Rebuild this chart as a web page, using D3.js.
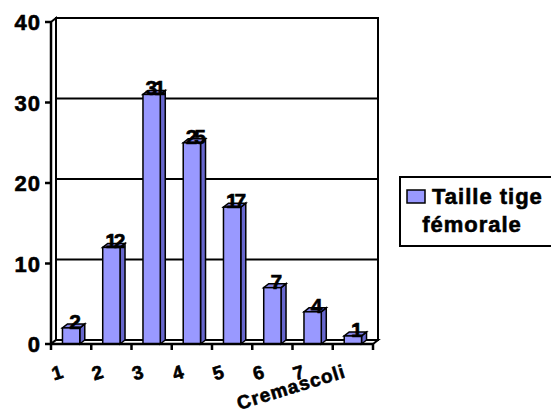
<!DOCTYPE html>
<html>
<head>
<meta charset="utf-8">
<script src="https://cdn.jsdelivr.net/npm/d3@7"></script>
<style>
body{margin:0;background:#fff;}
svg text{font-family:"Liberation Sans",Arial,sans-serif;font-weight:bold;fill:#000;stroke:#000;stroke-width:0.6px;}
</style>
</head>
<body>
<div id="chart"></div>
<script>
var categories = ["1","2","3","4","5","6","7","Cremascoli"];
var values = [2,12,31,25,17,7,4,1];
var yTicks = [0,10,20,30,40];
var seriesName = ["Taille tige","fémorale"];

var W = 551, H = 412;
var dx = 5, dy = -4;   // profondeur 3D

var svg = d3.select("#chart").append("svg").attr("width",W).attr("height",H);

var x = d3.scaleBand().domain(categories).range([51,373]);
var y = d3.scaleLinear().domain([0,40]).range([344,22]);
var barW = x.bandwidth()*0.43;

var x0 = x.range()[0], x1 = x.range()[1], yb = y(0), yt = y(40);

//back wall
svg.append("rect").attr("x",x0+dx).attr("y",yt+dy)
	.attr("width",x1-x0).attr("height",yb-yt)
	.attr("fill","#fff").attr("stroke","#000").attr("stroke-width",2);

//gridlines
svg.selectAll(".grid").data(yTicks.slice(1,4)).enter().append("line")
	.attr("x1",x0+dx).attr("x2",x1+dx)
	.attr("y1",function(d){return y(d)+dy;}).attr("y2",function(d){return y(d)+dy;})
	.attr("stroke","#000").attr("stroke-width",2);

//left wall + floor
svg.append("polygon")
	.attr("points",[[x0,yt],[x0+dx,yt+dy],[x0+dx,yb+dy],[x0,yb]].join(" "))
	.attr("fill","#fff").attr("stroke","#000").attr("stroke-width",2);
svg.append("polygon")
	.attr("points",[[x0,yb],[x0+dx,yb+dy],[x1+dx,yb+dy],[x1,yb]].join(" "))
	.attr("fill","#fff").attr("stroke","#000").attr("stroke-width",2);

//bars
var bars = svg.selectAll(".bar").data(values).enter().append("g");
bars.each(function(d,i){
	var g = d3.select(this);
	var bx = x(categories[i]) + (x.bandwidth()-barW)/2;
	var by = y(d);
	g.append("polygon")
		.attr("points",[[bx+barW,by],[bx+barW+dx,by+dy],[bx+barW+dx,yb+dy],[bx+barW,yb]].join(" "))
		.attr("fill","#6666cc").attr("stroke","#000").attr("stroke-width",1.5);
	g.append("polygon")
		.attr("points",[[bx,by],[bx+dx,by+dy],[bx+barW+dx,by+dy],[bx+barW,by]].join(" "))
		.attr("fill","#8080e6").attr("stroke","#000").attr("stroke-width",1.5);
	g.append("rect").attr("x",bx).attr("y",by).attr("width",barW).attr("height",yb-by)
		.attr("fill","#9999ff").attr("stroke","#000").attr("stroke-width",1.5);
	g.append("text").attr("x",bx+barW/2+dx/2).attr("y",by+1)
		.attr("text-anchor","middle").style("font-size","21px").style("letter-spacing","-3px")
		.text(d);
});

//axes
svg.append("line").attr("x1",x0).attr("x2",x0).attr("y1",yt).attr("y2",yb)
	.attr("stroke","#000").attr("stroke-width",2.5);
svg.append("line").attr("x1",x0).attr("x2",x1).attr("y1",yb).attr("y2",yb)
	.attr("stroke","#000").attr("stroke-width",2.5);
svg.selectAll(".ytick").data(yTicks).enter().append("line")
	.attr("x1",x0-6).attr("x2",x0).attr("y1",function(d){return y(d);}).attr("y2",function(d){return y(d);})
	.attr("stroke","#000").attr("stroke-width",2.5);
svg.selectAll(".ylab").data(yTicks).enter().append("text")
	.attr("x",x0-10).attr("y",function(d){return y(d)+8;})
	.attr("text-anchor","end").style("font-size","22px").style("letter-spacing","1px")
	.text(function(d){return d;});
var xTickPos = categories.map(function(c){return x(c);}).concat([x1]);
svg.selectAll(".xtick").data(xTickPos).enter().append("line")
	.attr("x1",function(d){return d;}).attr("x2",function(d){return d;})
	.attr("y1",yb).attr("y2",yb+6)
	.attr("stroke","#000").attr("stroke-width",2.5);
svg.selectAll(".xlab").data(categories).enter().append("text")
	.attr("text-anchor","end").style("font-size","19px").style("letter-spacing","1px")
	.attr("transform",function(d){return "translate("+(x(d)+x.bandwidth()/2-6)+","+(yb+33)+") rotate(-17)";})
	.text(function(d){return d;});

//legend
var leg = svg.append("g");
leg.append("rect").attr("x",400).attr("y",177).attr("width",160).attr("height",69)
	.attr("fill","#fff").attr("stroke","#000").attr("stroke-width",2);
leg.append("rect").attr("x",407).attr("y",190).attr("width",18).attr("height",13)
	.attr("fill","#9999ff").attr("stroke","#000").attr("stroke-width",1.5);
leg.append("text").attr("x",432).attr("y",204).style("font-size","22px").style("letter-spacing","1px").text(seriesName[0]);
leg.append("text").attr("x",472).attr("y",232).attr("text-anchor","middle").style("font-size","22px").style("letter-spacing","1px").text(seriesName[1]);
</script>
</body>
</html>
